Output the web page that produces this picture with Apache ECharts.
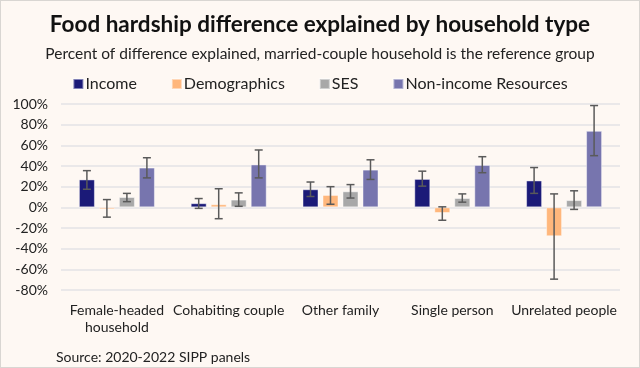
<!DOCTYPE html>
<html><head><meta charset="utf-8">
<script src="https://cdn.jsdelivr.net/npm/echarts@6/dist/echarts.min.js"></script>
<style>
html,body{margin:0;padding:0;background:#fef8f3;}
#c{width:640px;height:368px;box-sizing:border-box;border:1px solid #d9d6d2;}
</style></head>
<body><div id="c"></div>
<script>
var categories = ['Female-headed\nhousehold', 'Cohabiting couple', 'Other family', 'Single person', 'Unrelated people'];
var seriesNames = ['Income', 'Demographics', 'SES', 'Non-income Resources'];
var colors = ['#1b1a78', '#ffb77c', '#a8a8a8', '#7775ae'];
var income = [27, 4, 17.5, 27.5, 26];
var demographics = [-1.5, 3, 12, -5.5, -28];
var ses = [10, 7.5, 15.5, 9, 7];
var nonIncome = [38.5, 41.5, 36.5, 41, 74];
var incomeLow = [17.5, -1, 10.5, 20.5, 13.5];
var incomeHigh = [35.5, 8.5, 24.5, 35, 38.5];
var demoLow = [-9.5, -11, 3, -12.5, -69.5];
var demoHigh = [7.5, 18, 20, 0.5, 13];
var sesLow = [5.5, 1, 9, 5, -2];
var sesHigh = [13.5, 14, 22, 13, 16];
var nonLow = [28.5, 28.5, 27, 33.5, 50];
var nonHigh = [48, 55.5, 46, 49, 98.5];
var yTicks = [-80, -60, -40, -20, 0, 20, 40, 60, 80, 100];

var values = [income, demographics, ses, nonIncome];
var lows = [incomeLow, demoLow, sesLow, nonLow];
var highs = [incomeHigh, demoHigh, sesHigh, nonHigh];

var BAR_W = 16, GAP = 4;
var FONT = 'Lato';

var series = [];
seriesNames.forEach(function (name, i) {
  series.push({
    name: name, type: 'bar', data: values[i], barWidth: BAR_W, barGap: (GAP / BAR_W * 100) + '%',
    barMinHeight: 2,
    itemStyle: { color: colors[i], borderColor: 'rgba(255,255,255,0.45)', borderWidth: 1 },
    emphasis: { disabled: true }
  });
});
seriesNames.forEach(function (name, i) {
  var offset = (i - 1.5) * (BAR_W + GAP);
  var data = categories.map(function (c, j) { return [j, lows[i][j], highs[i][j]]; });
  series.push({
    type: 'custom', data: data, z: 10, silent: true,
    renderItem: function (params, api) {
      var lo = api.coord([api.value(0), api.value(1)]);
      var hi = api.coord([api.value(0), api.value(2)]);
      var x = lo[0] + offset;
      var cap = 4;
      var st = { stroke: '#5a5a5a', lineWidth: 1.5 };
      return { type: 'group', children: [
        { type: 'line', shape: { x1: x, y1: lo[1], x2: x, y2: hi[1] }, style: { stroke: '#5a5a5a', lineWidth: 1.5 } },
        { type: 'line', shape: { x1: x - cap, y1: lo[1], x2: x + cap, y2: lo[1] }, style: st },
        { type: 'line', shape: { x1: x - cap, y1: hi[1], x2: x + cap, y2: hi[1] }, style: st }
      ]};
    }
  });
});

var chart = echarts.init(document.getElementById('c'), null, { renderer: 'canvas' });
chart.setOption({
  backgroundColor: '#fef8f3',
  animation: false,
  color: colors,
  title: [
    { text: 'Food hardship difference explained by household type', left: 'center', top: 7,
      textStyle: { fontFamily: FONT, fontSize: 22.5, fontWeight: 'bold', color: '#111' } },
    { text: 'Percent of difference explained, married-couple household is the reference group', left: 'center', top: 40,
      textStyle: { fontFamily: FONT, fontSize: 15.5, fontWeight: 'normal', color: '#222' } },
    { text: 'Source: 2020-2022 SIPP panels', left: 50, top: 344,
      textStyle: { fontFamily: FONT, fontSize: 14, fontWeight: 'normal', color: '#222' } }
  ],
  legend: {
    data: seriesNames, top: 70, left: 'center', icon: 'rect', itemWidth: 10, itemHeight: 10, itemGap: 34,
    textStyle: { fontFamily: FONT, fontSize: 16, color: '#222', padding: [0, 0, 0, -3] },
    selectedMode: false
  },
  grid: { left: 60, right: 19, top: 103, bottom: 77, containLabel: false },
  xAxis: {
    type: 'category', data: categories,
    axisLine: { show: false }, axisTick: { show: false },
    axisLabel: { fontFamily: FONT, fontSize: 14, color: '#222', lineHeight: 17, margin: 12, interval: 0 }
  },
  yAxis: {
    type: 'value', min: -80, max: 100, interval: 20,
    axisLine: { show: false }, axisTick: { show: false },
    axisLabel: { fontFamily: FONT, fontSize: 14, color: '#222', margin: 13,
      formatter: function (v) { return yTicks.indexOf(v) >= 0 ? v + '%' : ''; } },
    splitLine: { lineStyle: { color: '#e3e3e6', width: 1.5 } }
  },
  series: series
});
</script></body></html>
